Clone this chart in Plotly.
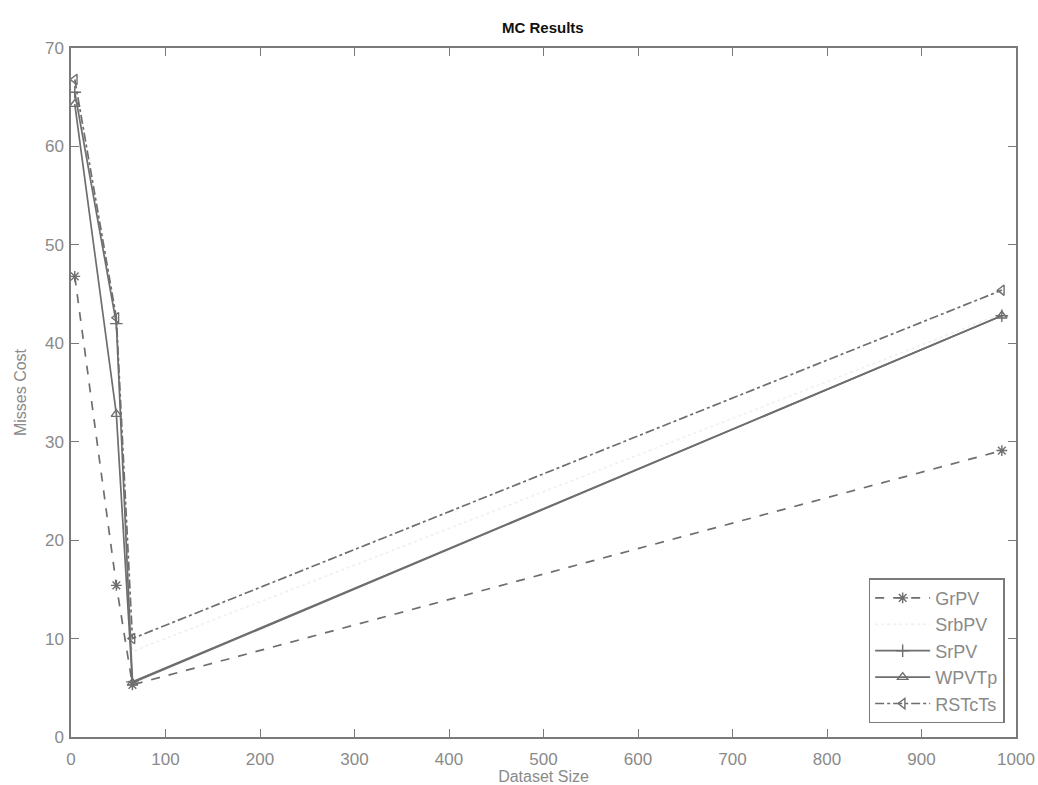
import plotly.graph_objects as go

# Dataset sizes used in the experiment
dataset_size = [4, 48, 65, 985]

# Misses cost for each method
grpv = [46.8, 15.4, 5.3, 29.1]
srbpv = [66.0, 42.4, 8.7, 43.0]
srpv = [65.5, 42.0, 5.6, 42.8]
wpvtp = [64.3, 32.8, 5.5, 42.8]
rstcts = [66.8, 42.6, 10.0, 45.4]

series = [
    ("GrPV", grpv, "dash", "asterisk-open", "#6e6e6e"),
    ("SrbPV", srbpv, "dot", "circle-open", "#f0f0f0"),
    ("SrPV", srpv, "solid", "cross-thin-open", "#6e6e6e"),
    ("WPVTp", wpvtp, "solid", "triangle-up-open", "#6e6e6e"),
    ("RSTcTs", rstcts, "dashdot", "triangle-left-open", "#6e6e6e"),
]

fig = go.Figure()
for name, vals, dash, symbol, color in series:
    mline = dict(color=color, width=1.4) if symbol != "circle-open" else dict(color=color, width=0.1)
    fig.add_trace(go.Scatter(
        x=dataset_size, y=vals, name=name, mode="lines+markers",
        line=dict(color=color, width=1.7, dash=dash),
        marker=dict(symbol=symbol, size=9, color=color, line=mline),
    ))

axis_color = "#7a7a7a"
text_color = "#8a8a8a"
font_fam = "Liberation Sans, Arial, sans-serif"

fig.update_layout(
    width=1038, height=785,
    margin=dict(l=71, r=22, t=48, b=48),
    paper_bgcolor="white", plot_bgcolor="white",
    title=dict(text="<b>MC Results</b>", x=0.523, xanchor="center", y=0.965, yanchor="middle",
               font=dict(family=font_fam, size=15, color="#111111")),
    font=dict(family=font_fam, color=text_color),
    showlegend=True,
    legend=dict(x=0.988, y=0.02, xanchor="right", yanchor="bottom",
                bordercolor=axis_color, borderwidth=1.5, bgcolor="white",
                font=dict(size=18, color=text_color), tracegroupgap=0, itemwidth=55),
)

fig.update_xaxes(
    range=[0, 1000], tickvals=list(range(0, 1001, 100)),
    showline=True, linecolor=axis_color, linewidth=1.5, mirror="ticks",
    ticks="inside", ticklen=8, tickcolor=axis_color, showgrid=False, zeroline=False,
    tickfont=dict(size=17, color=text_color), ticklabelstandoff=6,
    ticklabeloverflow="allow", automargin=False,
    title=dict(text="Dataset Size", font=dict(size=16, color=text_color), standoff=2),
)
fig.update_yaxes(
    range=[0, 70], tickvals=list(range(0, 71, 10)),
    showline=True, linecolor=axis_color, linewidth=1.5, mirror="ticks",
    ticks="inside", ticklen=8, tickcolor=axis_color, showgrid=False, zeroline=False,
    tickfont=dict(size=17, color=text_color), ticklabelstandoff=2,
    ticklabeloverflow="allow", automargin=False,
    title=dict(text="Misses Cost", font=dict(size=16, color=text_color), standoff=14),
)

fig.write_html("out.html")
